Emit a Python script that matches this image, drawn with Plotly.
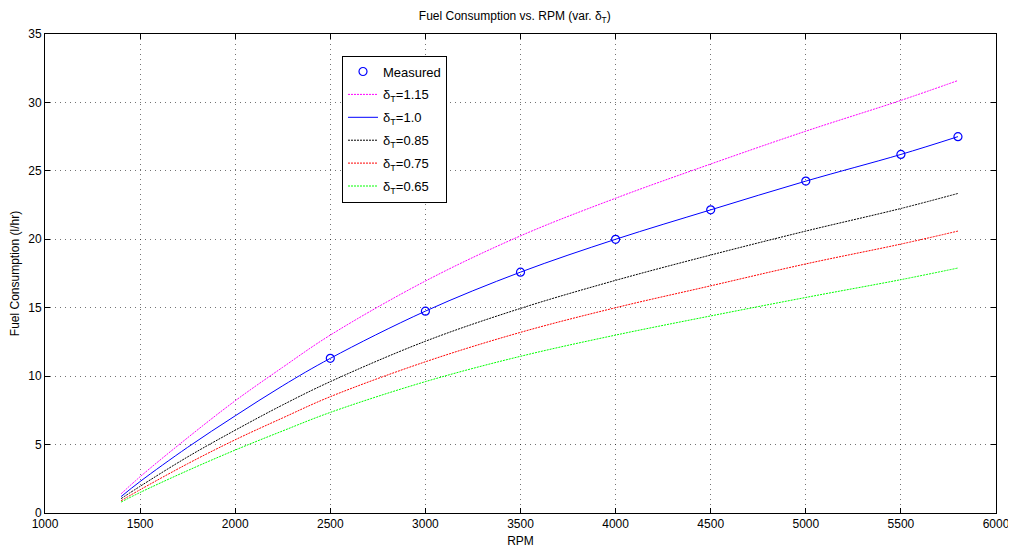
import plotly.graph_objects as go

# RPM sample points for the model curves
rpm = [1400, 1500, 1750, 2000, 2250, 2500, 3000, 3500, 4000, 4500, 5000, 5500, 5800]
fc_115 = [1.4, 2.65, 5.5, 8.2, 10.65, 13.0, 16.95, 20.25, 23.0, 25.5, 27.9, 30.15, 31.6]
fc_100 = [1.2, 2.3, 4.8, 7.1, 9.3, 11.3, 14.75, 17.6, 20.0, 22.15, 24.25, 26.2, 27.5]
fc_085 = [1.05, 1.95, 4.1, 6.05, 7.9, 9.6, 12.55, 14.95, 17.0, 18.85, 20.6, 22.25, 23.35]
fc_075 = [0.9, 1.7, 3.6, 5.35, 6.95, 8.5, 11.05, 13.2, 15.0, 16.6, 18.2, 19.65, 20.6]
fc_065 = [0.8, 1.5, 3.1, 4.6, 6.0, 7.35, 9.6, 11.45, 13.0, 14.4, 15.75, 17.05, 17.9]

# measured points
meas_rpm = [2500, 3000, 3500, 4000, 4500, 5000, 5500, 5800]
meas_fc = [11.3, 14.75, 17.6, 20.0, 22.15, 24.25, 26.2, 27.5]

x_ticks = [1000, 1500, 2000, 2500, 3000, 3500, 4000, 4500, 5000, 5500, 6000]
y_ticks = [0, 5, 10, 15, 20, 25, 30, 35]

FONT = "Liberation Sans, Arial, sans-serif"

fig = go.Figure()
fig.add_trace(go.Scatter(x=meas_rpm, y=meas_fc, mode="markers", name="Measured",
                         legendgroup="m",
                         marker=dict(symbol="circle-open", size=8, color="#0000FF",
                                     line=dict(width=1.2, color="#0000FF"))))
curves = [
    ("δ<sub>T</sub>=1.15", fc_115, "#FF00FF", "2px,1px"),
    ("δ<sub>T</sub>=1.0", fc_100, "#0000FF", "solid"),
    ("δ<sub>T</sub>=0.85", fc_085, "#000000", "2px,1px"),
    ("δ<sub>T</sub>=0.75", fc_075, "#FF0000", "2px,1px"),
    ("δ<sub>T</sub>=0.65", fc_065, "#00FF00", "2px,1px"),
]
for i, (name, ys, col, dash) in enumerate(curves):
    fig.add_trace(go.Scatter(x=rpm, y=ys, mode="lines", name=name, legendgroup=f"g{i}",
                             line=dict(color=col, width=1, dash=dash, shape="spline")))

axis_common = dict(
    showline=True, linecolor="black", linewidth=1, mirror="allticks",
    ticks="inside", ticklen=5, tickcolor="black",
    showgrid=True, gridcolor="rgba(0,0,0,0.55)", griddash="1px,4px", gridwidth=1,
    zeroline=False, tickfont=dict(family=FONT, size=12, color="black"),
    automargin=False,
)

# page body has an 8px margin, so the figure is sized to fill the rest of the window
fig.update_layout(
    width=1008, height=543,
    margin=dict(l=37, r=20, t=26, b=38, autoexpand=False),
    paper_bgcolor="white", plot_bgcolor="white",
    font=dict(family=FONT, size=12, color="black"),
    title=dict(text="Fuel Consumption vs. RPM (var. δ<sub>T</sub>)", x=0.494, xref="paper",
               xanchor="center", y=0.985, yanchor="middle", automargin=False,
               font=dict(family=FONT, size=12, color="black")),
    xaxis=dict(range=[1000, 6000], tickvals=x_ticks,
               title=dict(text="RPM", font=dict(family=FONT, size=12), standoff=6),
               **axis_common),
    yaxis=dict(range=[0, 35], tickvals=y_ticks,
               title=dict(text="Fuel Consumption (l/hr)", font=dict(family=FONT, size=12), standoff=6),
               **axis_common),
    legend=dict(x=0.3123, y=0.955, xanchor="left", yanchor="top",
                bgcolor="white", bordercolor="black", borderwidth=1,
                font=dict(family=FONT, size=13, color="black"),
                traceorder="grouped", tracegroupgap=3),
    showlegend=True,
)

fig.write_html("out.html")
